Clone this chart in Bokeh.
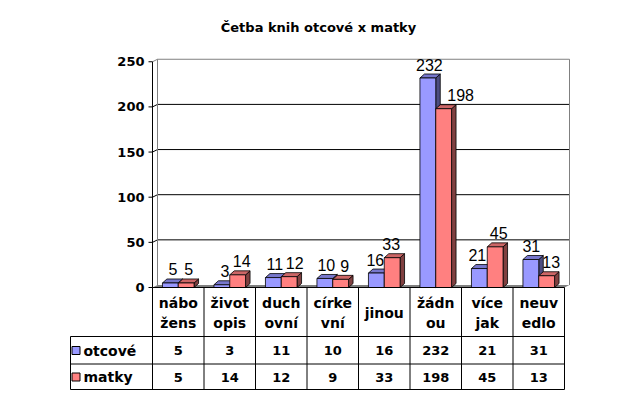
from bokeh.plotting import figure
from bokeh.models import Range1d
from bokeh.core.properties import value
from bokeh.embed import file_html
from bokeh.resources import INLINE

# ---------------- data ----------------
title_text = "Četba knih otcové x matky"
categories = ["nábo\nžens", "život\nopis", "duch\novní", "círke\nvní", "jinou",
              "žádn\nou", "více\njak", "neuv\nedlo"]
series_names = ["otcové", "matky"]
otcove = [5, 3, 11, 10, 16, 232, 21, 31]
matky = [5, 14, 12, 9, 33, 198, 45, 13]
y_ticks = [0, 50, 100, 150, 200, 250]

# ---------------- styles / layout ----------------
front_cols = ["#9999FF", "#FF8080"]
top_cols = ["#7777CC", "#CC6666"]
side_cols = ["#4D4D80", "#804040"]
# per-label horizontal nudges (px), mimicking the original label placement
label_nudge = [[2.5, 3, 1.5, 1.5, -1, 1.5, -2, 0.5],
               [2.5, 4, 5.5, 4, -1, 17, 3.5, 4.5]]

W, H = 636, 397
X0, SX = 152.0, 51.5     # page px of category 0 start, px per category
Y0, SY = 287.0, 0.903    # page px of value 0, px per value unit


def xd(px):
    return (px - X0) / SX


def yd(py):
    return (Y0 - py) / SY


def dxu(px):
    return px / SX


def dyu(px):
    return px / SY


n = len(categories)
BAR_W = dxu(15.8)
DX, DY = dxu(4.5), dyu(4.0)
WX, WY = dxu(5.0), dyu(2.5)
ymax = y_ticks[-1]

p = figure(width=W, height=H, output_backend="svg", toolbar_location=None,
           x_range=Range1d(xd(0), xd(W)), y_range=Range1d(yd(H), yd(0)),
           x_axis_location=None, y_axis_location=None, min_border=0,
           outline_line_color=None, background_fill_color="white",
           border_fill_color="white")
p.grid.grid_line_color = None

BOLD = dict(text_font=value("DejaVu Sans"), text_font_style="bold")

# title
p.text(x=[xd(318)], y=[yd(27)], text=[title_text], text_align="center",
       text_baseline="middle", text_font_size="13px", text_color="black", **BOLD)

# back wall
p.patch(x=[WX, WX, n + WX, n + WX], y=[WY, ymax + WY, ymax + WY, WY],
        fill_color="white", line_color=None)
# floor
p.patch(x=[0, n, n + WX, WX], y=[0, 0, WY, WY], fill_color="#808080", line_color=None)

# gridlines on back wall + side wall
grid_vals = [v for v in y_ticks if 0 < v < ymax]
p.multi_line(xs=[[0, WX, n + WX] for _ in grid_vals],
             ys=[[v, v + WY, v + WY] for v in grid_vals],
             line_color="black", line_width=1)
# wall borders (gray)
p.multi_line(xs=[[WX, WX], [0, WX, n + WX, n + WX]],
             ys=[[WY, ymax + WY], [ymax, ymax + WY, ymax + WY, WY]],
             line_color="#808080", line_width=1)

# value axis
p.segment(x0=[0], y0=[0], x1=[0], y1=[ymax], line_color="black", line_width=1)
p.segment(x0=[dxu(-4)] * len(y_ticks), y0=y_ticks, x1=[0] * len(y_ticks), y1=y_ticks,
          line_color="black", line_width=1)
p.text(x=[xd(144)] * len(y_ticks), y=y_ticks, text=[str(v) for v in y_ticks],
       text_align="right", text_baseline="middle", text_font_size="13px",
       text_color="black", **BOLD)

# bars (3D columns)
for s, vals in enumerate([otcove, matky]):
    lefts = [i + 0.5 - BAR_W + s * BAR_W for i in range(n)]
    rights = [l + BAR_W for l in lefts]
    p.patches(xs=[[r, r + DX, r + DX, r] for r in rights],
              ys=[[0, DY, v + DY, v] for v in vals],
              fill_color=side_cols[s], line_color="black", line_width=0.8)
    p.patches(xs=[[l, l + DX, r + DX, r] for l, r in zip(lefts, rights)],
              ys=[[v, v + DY, v + DY, v] for v in vals],
              fill_color=top_cols[s], line_color="black", line_width=0.8)
    p.quad(left=lefts, right=rights, bottom=[0] * n, top=vals,
           fill_color=front_cols[s], line_color="black", line_width=0.8)

# data labels
for s, vals in enumerate([otcove, matky]):
    xs = [i + 0.5 - BAR_W / 2 + s * BAR_W + dxu(label_nudge[s][i]) for i in range(n)]
    ys = [v + DY + dyu(9.5) for v in vals]
    p.text(x=xs, y=ys, text=[str(v) for v in vals], text_align="center",
           text_baseline="middle", text_font_size="16px",
           text_font=value("Liberation Sans"), text_color="black")

# ---------------- data table ----------------
h_lines = [yd(336), yd(363.5), yd(389)]
row_mid = [yd(350), yd(376.5)]
x_left = xd(70)
# floor front edge / table top
p.segment(x0=[0], y0=[0], x1=[n], y1=[0], line_color="black", line_width=1)
p.segment(x0=list(range(n + 1)), y0=[0] * (n + 1), x1=list(range(n + 1)),
          y1=[h_lines[-1]] * (n + 1), line_color="black", line_width=1)
p.segment(x0=[x_left] * 3, y0=h_lines, x1=[n] * 3, y1=h_lines,
          line_color="black", line_width=1)
p.segment(x0=[x_left], y0=[h_lines[0]], x1=[x_left], y1=[h_lines[-1]],
          line_color="black", line_width=1)

# category header
hx, hy, ht = [], [], []
for i, c in enumerate(categories):
    parts = c.split("\n")
    if len(parts) == 1:
        hx.append(i + 0.5); hy.append(yd(312)); ht.append(parts[0])
    else:
        for k, part in enumerate(parts):
            hx.append(i + 0.5); hy.append(yd(302 + 20 * k)); ht.append(part)
p.text(x=hx, y=hy, text=ht, text_align="center", text_baseline="middle",
       text_font_size="14px", text_color="black", **BOLD)

# legend keys and names
p.rect(x=[xd(75.5)] * 2, y=row_mid, width=8, height=8,
       width_units="screen", height_units="screen",
       fill_color=front_cols, line_color="black", line_width=1)
p.text(x=[xd(83)] * 2, y=row_mid, text=series_names, text_align="left",
       text_baseline="middle", text_font_size="14px", text_color="black", **BOLD)

# values
for s, vals in enumerate([otcove, matky]):
    p.text(x=[i + 0.5 for i in range(n)], y=[row_mid[s]] * n, text=[str(v) for v in vals],
           text_align="center", text_baseline="middle", text_font_size="13px",
           text_color="black", **BOLD)

open("out.html", "w").write(file_html(p, INLINE))
